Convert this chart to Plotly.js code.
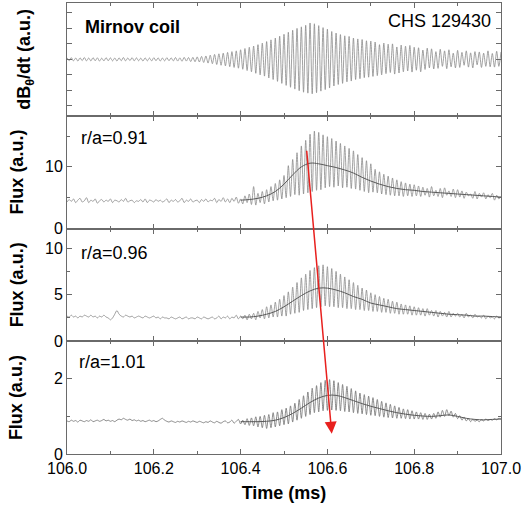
<!DOCTYPE html>
<html><head><meta charset="utf-8">
<script src="https://cdn.plot.ly/plotly-3.0.1.min.js"></script>
<style>html,body{margin:0;padding:0;background:#fff}#chart{width:526px;height:511px}</style>
</head><body><div id="chart"></div>
<script>
// sampling grid (ms)
const rawStart = 106.0, rawStep = 0.005;
const meanStart = 106.4, meanStep = 0.02;

// Mirnov coil dB/dt (a.u.), one value per half-cycle
const mirnov = [
0.10,-0.09,0.11,-0.10,0.09,-0.11,0.10,-0.08,0.12,-0.10,0.09,-0.10,0.11,-0.09,0.10,-0.11,0.08,-0.10,0.11,-0.09,0.10,
-0.10,0.09,-0.11,0.10,-0.09,0.12,-0.10,0.09,-0.08,0.11,-0.10,0.10,-0.09,0.08,-0.11,0.10,-0.10,0.09,-0.10,0.11,
-0.09,0.10,-0.11,0.09,-0.10,0.11,-0.09,0.10,-0.10,0.12,-0.11,0.10,-0.12,0.13,-0.11,0.12,-0.14,0.13,-0.15,0.16,
-0.17,0.19,-0.20,0.22,-0.24,0.27,-0.28,0.32,-0.33,0.36,-0.38,0.40,-0.42,0.45,-0.47,0.50,-0.52,0.55,-0.57,0.62,
-0.64,0.70,-0.72,0.78,-0.80,0.86,-0.90,0.95,-1.00,1.05,-1.08,1.15,-1.20,1.26,-1.30,1.38,-1.42,1.50,-1.55,1.62,
-1.68,1.75,-1.80,1.88,-1.92,2.00,-2.02,2.10,-2.12,2.20,-2.18,2.35,-2.22,2.30,-2.15,2.18,-2.05,2.05,-1.95,1.95,
-1.85,1.80,-1.72,1.70,-1.62,1.60,-1.55,1.52,-1.45,1.48,-1.40,1.38,-1.30,1.32,-1.25,1.28,-1.18,1.20,-1.15,1.18,
-1.10,1.12,-1.05,0.95,-1.00,1.05,-0.92,0.98,-0.85,1.00,-0.95,0.80,-0.88,0.92,-0.80,0.85,-0.75,0.90,-0.82,0.78,
-0.70,0.75,-0.80,0.60,-0.65,0.72,-0.55,0.68,-0.62,0.50,-0.58,0.65,-0.45,0.55,-0.60,0.62,-0.48,0.40,-0.55,0.58,
-0.52,0.45,-0.38,0.55,-0.50,0.42,-0.55,0.50,-0.35,0.48,-0.52,0.40,-0.45,0.55,-0.48,0.38,-0.50,0.52,-0.45,0.48];

// Flux at r/a = 0.91
const flux091 = [
4.3,4.7,4.4,4.8,4.2,4.6,4.9,4.3,4.5,5.0,4.2,4.6,4.4,4.8,4.1,4.5,4.7,4.3,4.6,4.4,4.8,
4.2,4.6,4.5,4.3,4.7,4.4,4.9,4.3,4.5,4.6,4.2,4.5,4.4,4.7,4.3,4.8,4.2,4.6,4.5,4.3,
4.7,4.4,4.6,4.3,4.5,4.8,4.2,4.6,4.4,4.7,4.3,4.5,4.9,4.2,4.6,4.4,4.8,4.3,4.5,4.6,
4.2,4.7,4.4,4.8,4.3,4.6,4.5,4.9,4.2,4.7,4.4,5.0,4.3,4.8,4.2,4.9,4.4,5.1,4.1,4.8,
4.0,5.3,4.2,5.6,3.9,6.8,3.8,5.7,4.2,6.0,4.0,6.3,4.3,6.8,4.5,7.3,4.6,7.9,4.8,8.6,
5.0,10.2,5.2,11.2,5.5,12.3,5.4,13.4,5.6,14.3,5.8,15.3,6.0,15.8,6.2,15.6,6.3,15.2,6.6,14.9,
6.8,14.6,6.7,14.2,6.9,13.8,6.6,13.4,6.7,13.0,6.5,12.6,6.4,12.0,6.2,11.5,6.0,11.0,5.8,10.5,
5.9,9.6,5.8,9.2,5.6,8.8,5.5,8.5,5.4,8.2,5.3,7.9,5.3,7.6,5.2,7.4,5.3,7.2,5.2,7.1,
5.3,6.9,5.2,6.7,5.4,6.5,5.1,6.8,5.3,6.2,5.2,6.5,5.0,6.6,5.4,6.1,5.2,6.4,5.0,6.3,
5.1,6.1,4.9,5.9,5.3,5.6,4.9,6.0,4.8,5.7,5.1,5.8,4.8,5.5,5.0,5.7,4.6,5.4,4.8,5.2];
const mean091 = [4.6,4.7,4.9,5.3,6.0,7.2,8.7,10.0,10.6,10.5,10.2,9.9,9.5,9.0,8.3,7.7,7.2,6.8,6.5,6.3,6.2,6.0,5.9,5.8,5.7,5.6,5.5,5.4,5.3,5.2,5.1];

// Flux at r/a = 0.96
const flux096 = [
2.7,2.6,2.8,2.6,2.7,2.5,2.7,2.6,2.8,2.7,2.6,2.8,2.6,2.7,2.5,2.7,2.6,2.8,2.6,2.5,2.3,
2.5,2.9,3.3,2.9,2.7,2.6,2.8,2.7,2.6,2.7,2.5,2.6,2.7,2.6,2.5,2.7,2.6,2.5,2.6,2.7,
2.5,2.6,2.4,2.6,2.5,2.5,2.4,2.6,2.5,2.4,2.5,2.6,2.4,2.5,2.6,2.4,2.5,2.5,2.4,2.6,
2.5,2.4,2.6,2.5,2.4,2.5,2.6,2.4,2.5,2.7,2.4,2.6,2.5,2.7,2.4,2.6,2.5,2.8,2.4,2.7,
2.4,2.8,2.3,2.9,2.4,3.0,2.3,3.2,2.5,3.4,2.4,3.7,2.5,3.9,2.6,4.2,2.6,4.5,2.7,4.9,
2.7,5.3,2.9,5.8,3.0,6.3,3.1,6.8,3.3,7.2,3.4,7.6,3.5,7.9,3.6,8.1,3.7,8.2,3.8,8.0,
3.7,7.8,3.7,7.5,3.6,7.2,3.6,6.9,3.5,6.6,3.5,6.3,3.4,6.0,3.4,5.7,3.3,5.5,3.3,5.2,
3.2,5.0,3.2,4.8,3.1,4.6,3.1,4.5,3.0,4.3,3.0,4.2,2.9,4.0,2.9,3.9,2.9,3.8,2.8,3.7,
2.8,3.6,2.8,3.5,2.7,3.5,2.8,3.3,2.7,3.3,2.6,3.2,2.7,3.1,2.6,3.2,2.6,3.0,2.7,3.0,
2.6,2.9,2.5,3.0,2.6,2.8,2.5,2.9,2.6,2.7,2.5,2.8,2.4,2.7,2.5,2.6,2.4,2.7,2.5,2.6];
const mean096 = [2.6,2.6,2.7,2.9,3.2,3.7,4.3,4.9,5.4,5.7,5.7,5.5,5.2,4.8,4.5,4.1,3.9,3.7,3.5,3.4,3.3,3.2,3.1,3.0,2.9,2.85,2.8,2.7,2.7,2.65,2.6];

// Flux at r/a = 1.01
const flux101 = [
0.88,0.86,0.90,0.87,0.89,0.85,0.90,0.88,0.86,0.89,0.87,0.91,0.86,0.88,0.90,0.87,0.89,0.92,0.88,0.90,0.87,
0.89,0.86,0.90,0.93,0.91,0.95,0.92,0.90,0.93,0.89,0.91,0.88,0.90,0.87,0.89,0.86,0.88,0.90,0.87,0.89,
0.86,0.88,0.92,0.95,0.90,0.87,0.85,0.88,0.86,0.84,0.87,0.85,0.88,0.86,0.84,0.87,0.85,0.88,0.86,0.84,
0.87,0.85,0.83,0.86,0.84,0.88,0.85,0.83,0.87,0.84,0.82,0.86,0.88,0.83,0.85,0.90,0.82,0.87,0.92,0.80,
0.90,0.78,0.94,0.76,0.96,0.75,0.99,0.72,1.00,0.70,1.03,0.68,1.05,0.70,1.10,0.72,1.12,0.75,1.18,0.78,
1.22,0.80,1.28,0.85,1.35,0.90,1.45,0.95,1.55,1.00,1.65,1.05,1.75,1.10,1.82,1.12,1.90,1.15,1.96,1.16,
1.98,1.17,1.95,1.16,1.90,1.15,1.85,1.13,1.80,1.12,1.74,1.10,1.68,1.08,1.62,1.07,1.58,1.05,1.54,1.03,
1.50,1.02,1.45,1.00,1.40,0.98,1.36,0.97,1.32,0.96,1.28,0.95,1.24,0.95,1.20,0.94,1.18,0.93,1.15,0.93,
1.12,0.93,1.10,0.92,1.08,0.92,1.06,0.93,1.08,0.95,1.12,0.98,1.16,1.00,1.18,1.02,1.14,0.98,1.08,0.94,
1.02,0.90,0.98,0.88,0.94,0.86,0.92,0.87,0.90,0.86,0.91,0.88,0.93,0.89,0.92,0.90,0.94,0.91,0.95,0.93];
const mean101 = [0.86,0.86,0.86,0.87,0.90,0.97,1.08,1.22,1.37,1.49,1.56,1.56,1.50,1.42,1.34,1.27,1.21,1.15,1.10,1.06,1.03,1.01,1.00,1.02,1.04,1.00,0.95,0.92,0.91,0.92,0.93];

// labels
const panelLabels = ["Mirnov coil", "r/a=0.91", "r/a=0.96", "r/a=1.01"];
const shotLabel = "CHS 129430";
const yTitles = ["<b>dB<sub>θ</sub>/dt (a.u.)</b>", "<b>Flux (a.u.)</b>", "<b>Flux (a.u.)</b>", "<b>Flux (a.u.)</b>"];
const xTitle = "<b>Time (ms)</b>";

const FONT = "Liberation Sans, Arial, sans-serif";
const AX = '#6a6a6a';
const rawColor = '#8a8a8a';
const meanColor = '#5a5a5a';

function raw(y, xa, ya, color) {
  return {type:'scatter', mode:'lines', x0: rawStart, dx: rawStep, y: y, xaxis: xa, yaxis: ya,
    line:{color: color || rawColor, width:0.8, shape:'spline', smoothing:0.8}, hoverinfo:'skip', showlegend:false};
}
function mean(y, xa, ya) {
  return {type:'scatter', mode:'lines', x0: meanStart, dx: meanStep, y: y, xaxis: xa, yaxis: ya,
    line:{color: meanColor, width:1, shape:'spline', smoothing:1}, hoverinfo:'skip', showlegend:false};
}

const data = [
  raw(mirnov, 'x', 'y', '#8a8a8a'),
  raw(flux091, 'x2', 'y2'), mean(mean091, 'x2', 'y2'),
  raw(flux096, 'x3', 'y3'), mean(mean096, 'x3', 'y3'),
  raw(flux101, 'x4', 'y4', '#707070'), mean(mean101, 'x4', 'y4')
];

function xax(anchor, labels) {
  const a = {anchor: anchor, domain:[0,1], range:[106.0, 107.0], dtick:0.2, tick0:106, tickformat:'.1f',
    ticks:'inside', ticklen:5, tickwidth:1, tickcolor:AX, showline:true, linecolor:AX, linewidth:1,
    mirror:'ticks', showgrid:false, zeroline:false, showticklabels: labels,
    minor:{dtick:0.1, ticks:'inside', ticklen:3, tickcolor:AX},
    tickfont:{family:FONT, size:16, color:'#000'}};
  if (labels) a.title = {text: xTitle, font:{family:FONT, size:18, color:'#000'}, standoff:10};
  return a;
}
function yax(anchor, domain, range, dtick, minorDtick, labels, title, standoff) {
  const a = {anchor: anchor, domain: domain, range: range, dtick: dtick, tick0:0,
    ticks:'inside', ticklen:5, tickwidth:1, tickcolor:AX, showline:true, linecolor:AX, linewidth:1,
    mirror:'ticks', showgrid:false, zeroline:false, showticklabels: labels,
    tickfont:{family:FONT, size:16, color:'#000'},
    title:{text:title, font:{family:FONT, size:18, color:'#000'}, standoff: standoff}};
  if (minorDtick) a.minor = {dtick: minorDtick, ticks:'inside', ticklen:3, tickcolor:AX};
  return a;
}

const layout = {
  width:526, height:511, margin:{l:67, r:25, t:3, b:57},
  paper_bgcolor:'#fff', plot_bgcolor:'#fff', showlegend:false,
  font:{family:FONT, color:'#000'},
  xaxis: xax('y', false), xaxis2: xax('y2', false), xaxis3: xax('y3', false), xaxis4: xax('y4', true),
  yaxis:  yax('x',  [0.75,1.0], [-3.64, 3.64], 1, null, false, yTitles[0], 30),
  yaxis2: yax('x2', [0.5,0.75], [0, 18.3], 10, 5, true, yTitles[1], 16),
  yaxis3: yax('x3', [0.25,0.5], [0, 12.1], 5, 2.5, true, yTitles[2], 16),
  yaxis4: yax('x4', [0.0,0.25], [0, 3.0], 2, 1, true, yTitles[3], 26),
  annotations: [
    {xref:'x domain', yref:'y domain', x:0.037, y:0.79, xanchor:'left', yanchor:'middle', showarrow:false,
      text:'<b>'+panelLabels[0]+'</b>', font:{family:FONT, size:18, color:'#000'}},
    {xref:'x domain', yref:'y domain', x:0.982, y:0.84, xanchor:'right', yanchor:'middle', showarrow:false,
      text:shotLabel, font:{family:FONT, size:18, color:'#000'}},
    {xref:'x2 domain', yref:'y2 domain', x:0.028, y:0.80, xanchor:'left', yanchor:'middle', showarrow:false,
      text:panelLabels[1], font:{family:FONT, size:18, color:'#000'}},
    {xref:'x3 domain', yref:'y3 domain', x:0.028, y:0.78, xanchor:'left', yanchor:'middle', showarrow:false,
      text:panelLabels[2], font:{family:FONT, size:18, color:'#000'}},
    {xref:'x4 domain', yref:'y4 domain', x:0.024, y:0.815, xanchor:'left', yanchor:'middle', showarrow:false,
      text:panelLabels[3], font:{family:FONT, size:18, color:'#000'}},
    {xref:'x4', yref:'y4', x:106.61, y:0.54, axref:'x4', ayref:'y4', ax:106.552, ay:8.11,
      showarrow:true, arrowhead:2, arrowsize:1.6, arrowwidth:1.5, arrowcolor:'#e8201e', text:'', standoff:0}
  ]
};

Plotly.newPlot('chart', data, layout, {displayModeBar:false, staticPlot:true});
</script>
</body></html>
